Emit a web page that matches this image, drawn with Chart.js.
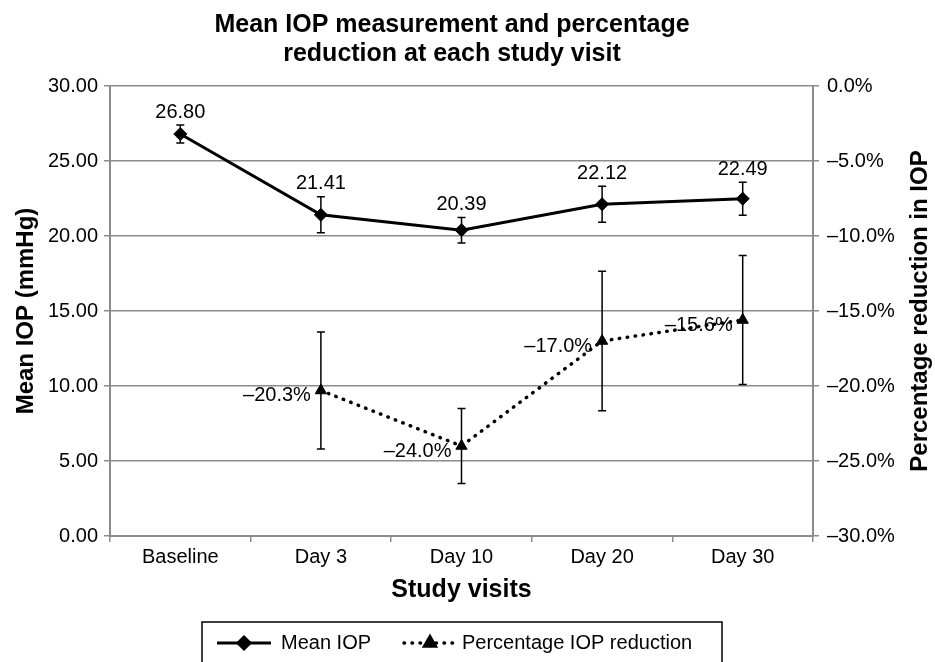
<!DOCTYPE html>
<html>
<head>
<meta charset="utf-8">
<script src="https://cdn.jsdelivr.net/npm/chart.js@4.4.1/dist/chart.umd.min.js"></script>
<style>
  body { margin: 0; background: #fff; }
  #wrap { width: 935px; height: 662px; }
</style>
</head>
<body>
<div id="wrap"><canvas id="chart" width="935" height="662"></canvas></div>
<script>
// data
const visits = ["Baseline", "Day 3", "Day 10", "Day 20", "Day 30"];
const meanIop = [26.80, 21.41, 20.39, 22.12, 22.49];
const meanIopErr = [0.6, 1.2, 0.85, 1.2, 1.1];
const pctReduction = [null, -20.3, -24.0, -17.0, -15.6];
const pctReductionErr = [null, 3.9, 2.5, 4.65, 4.3];
const leftTicks = [0, 5, 10, 15, 20, 25, 30];
const rightTicks = [-30, -25, -20, -15, -10, -5, 0];

const chartTitle = ["Mean IOP measurement and percentage", "reduction at each study visit"];
const xTitle = "Study visits";
const yTitle = "Mean IOP (mmHg)";
const y1Title = "Percentage reduction in IOP";

const FONT = "'Liberation Sans', Arial, sans-serif";
const GRID = "#8c8c8c";

function dash(v) { return String(v).replace("-", "\u2013"); }

// vertical error bars with caps
const errorBars = {
    id: "errorBars",
    afterDatasetsDraw(chart) {
        const ctx = chart.ctx;
        chart.data.datasets.forEach((ds, i) => {
            if (!ds.errors) return;
            const meta = chart.getDatasetMeta(i);
            const yScale = chart.scales[ds.yAxisID];
            ctx.save();
            ctx.strokeStyle = "#000";
            ctx.lineWidth = 1.5;
            ds.data.forEach((v, j) => {
                if (v === null || ds.errors[j] == null) return;
                const x = meta.data[j].x;
                const yTop = yScale.getPixelForValue(v + ds.errors[j]);
                const yBot = yScale.getPixelForValue(v - ds.errors[j]);
                ctx.beginPath();
                ctx.moveTo(x, yTop); ctx.lineTo(x, yBot);
                ctx.moveTo(x - 4, yTop); ctx.lineTo(x + 4, yTop);
                ctx.moveTo(x - 4, yBot); ctx.lineTo(x + 4, yBot);
                ctx.stroke();
            });
            ctx.restore();
        });
    }
};

// value labels next to the points
const valueLabels = {
    id: "valueLabels",
    afterDatasetsDraw(chart) {
        const ctx = chart.ctx;
        ctx.save();
        ctx.fillStyle = "#000";
        ctx.font = "20px " + FONT;
        ctx.textBaseline = "middle";
        chart.data.datasets.forEach((ds, i) => {
            const meta = chart.getDatasetMeta(i);
            const yScale = chart.scales[ds.yAxisID];
            ds.data.forEach((v, j) => {
                if (v === null) return;
                const p = meta.data[j];
                if (ds.yAxisID === "y") {
                    ctx.textAlign = "center";
                    ctx.fillText(v.toFixed(2), p.x, yScale.getPixelForValue(v + ds.errors[j]) - 13);
                } else {
                    ctx.textAlign = "right";
                    ctx.fillText(dash(v.toFixed(1)) + "%", p.x - 10, p.y + 5);
                }
            });
        });
        ctx.restore();
    }
};

// chart title and axis titles
const titles = {
    id: "titles",
    afterDraw(chart) {
        const ctx = chart.ctx;
        const a = chart.chartArea;
        ctx.save();
        ctx.fillStyle = "#000";
        ctx.textAlign = "center";
        ctx.textBaseline = "middle";
        ctx.font = "bold 25px " + FONT;
        ctx.fillText(chartTitle[0], 452, 25);
        ctx.fillText(chartTitle[1], 452, 54);
        ctx.font = "bold 25px " + FONT;
        ctx.fillText(xTitle, (a.left + a.right) / 2, 590);
        ctx.font = "bold 24px " + FONT;
        const midY = (a.top + a.bottom) / 2;
        ctx.save();
        ctx.translate(26, midY); ctx.rotate(-Math.PI / 2);
        ctx.fillText(yTitle, 0, 0);
        ctx.restore();
        ctx.save();
        ctx.translate(920, midY); ctx.rotate(-Math.PI / 2);
        ctx.fillText(y1Title, 0, 0);
        ctx.restore();
        ctx.restore();
    }
};

// boxed legend with line + marker samples
const boxLegend = {
    id: "boxLegend",
    afterDraw(chart) {
        const ctx = chart.ctx;
        const ds = chart.data.datasets;
        ctx.save();
        ctx.strokeStyle = "#000";
        ctx.lineWidth = 1.5;
        ctx.strokeRect(202, 622, 520, 60);
        ctx.font = "20px " + FONT;
        ctx.fillStyle = "#000";
        ctx.textBaseline = "middle";
        ctx.textAlign = "left";
        const y = 643;
        // Mean IOP
        ctx.lineWidth = 3;
        ctx.beginPath(); ctx.moveTo(217, y); ctx.lineTo(271, y); ctx.stroke();
        Chart.helpers.drawPoint(ctx, { pointStyle: "rectRot", radius: 6, borderWidth: 1 }, 244, y);
        ctx.fillText(ds[0].label, 281, y);
        // Percentage IOP reduction
        ctx.lineWidth = 3.5;
        ctx.lineCap = "round";
        ctx.setLineDash([0.5, 7.5]);
        ctx.beginPath(); ctx.moveTo(404, y); ctx.lineTo(454, y); ctx.stroke();
        ctx.setLineDash([]);
        Chart.helpers.drawPoint(ctx, { pointStyle: "triangle", radius: 6, borderWidth: 1 }, 430, y);
        ctx.fillText(ds[1].label, 462, y);
        ctx.restore();
    }
};

const ctx = document.getElementById("chart").getContext("2d");
new Chart(ctx, {
    type: "line",
    data: {
        labels: visits,
        datasets: [
            {
                label: "Mean IOP",
                data: meanIop,
                errors: meanIopErr,
                yAxisID: "y",
                borderColor: "#000",
                backgroundColor: "#000",
                borderWidth: 3,
                pointStyle: "rectRot",
                pointRadius: 6.5,
                pointBorderWidth: 1,
                tension: 0
            },
            {
                label: "Percentage IOP reduction",
                data: pctReduction,
                errors: pctReductionErr,
                yAxisID: "y1",
                borderColor: "#000",
                backgroundColor: "#000",
                borderWidth: 3.5,
                borderDash: [0.5, 7.5],
                borderCapStyle: "round",
                pointStyle: "triangle",
                pointRadius: 6.5,
                pointBorderWidth: 1,
                tension: 0
            }
        ]
    },
    options: {
        responsive: false,
        animation: false,
        layout: { padding: { left: 0, right: 0, top: 86, bottom: 62 } },
        plugins: {
            legend: { display: false },
            tooltip: { enabled: false },
            title: { display: false }
        },
        scales: {
            x: {
                offset: true,
                grid: { display: true, drawOnChartArea: false, offset: true, tickLength: 6, color: GRID, lineWidth: 1.5 },
                border: { color: GRID, width: 2 },
                ticks: { color: "#000", font: { family: FONT, size: 20 }, padding: 3 },
                afterFit(s) { s.height = 64; }
            },
            y: {
                position: "left",
                min: 0, max: 30,
                afterBuildTicks(s) { s.ticks = leftTicks.map(v => ({ value: v })); },
                grid: { color: GRID, lineWidth: 1.5, tickLength: 6 },
                border: { color: GRID, width: 2 },
                ticks: { color: "#000", font: { family: FONT, size: 20 }, padding: 6, callback: v => v.toFixed(2) },
                afterFit(s) { s.width = 110; }
            },
            y1: {
                position: "right",
                min: -30, max: 0,
                afterBuildTicks(s) { s.ticks = rightTicks.map(v => ({ value: v })); },
                grid: { drawOnChartArea: false, color: GRID, lineWidth: 1.5, tickLength: 6 },
                border: { color: GRID, width: 2 },
                ticks: { color: "#000", font: { family: FONT, size: 20 }, padding: 8, callback: v => dash(v.toFixed(1)) + "%" },
                afterFit(s) { s.width = 122; }
            }
        }
    },
    plugins: [errorBars, valueLabels, titles, boxLegend]
});
</script>
</body>
</html>
